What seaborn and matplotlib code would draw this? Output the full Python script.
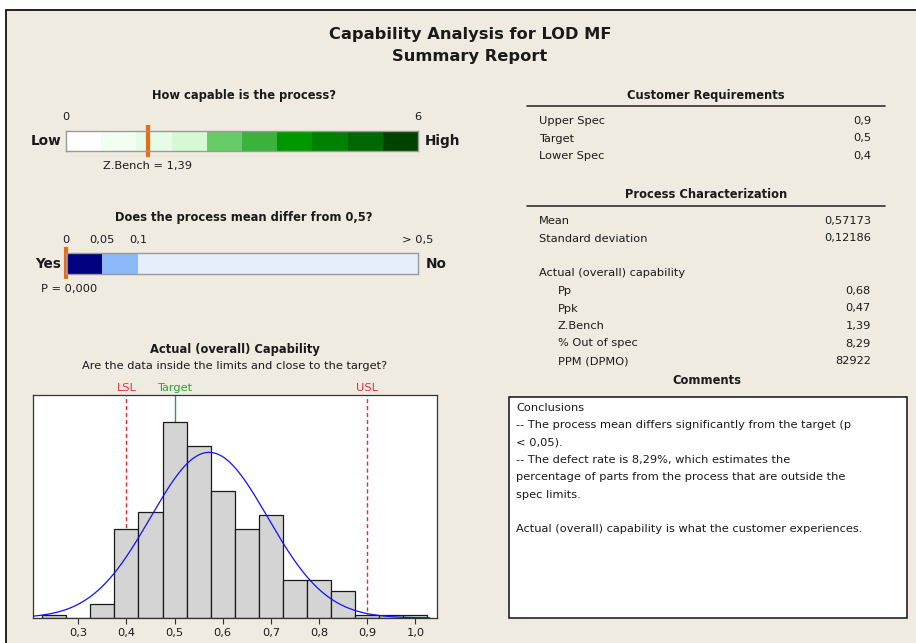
import numpy as np
import pandas as pd
import matplotlib
matplotlib.use("Agg")
import matplotlib.pyplot as plt
import seaborn as sns
from matplotlib.patches import Rectangle

# ---------------- data ----------------
bin_centers = [0.25, 0.30, 0.35, 0.40, 0.45, 0.50, 0.55, 0.60, 0.65, 0.70,
               0.75, 0.80, 0.85, 0.90, 0.95, 1.00]
bin_counts = [1, 0, 4, 26, 31, 57, 50, 37, 26, 30, 11, 11, 8, 1, 1, 1]
bin_width = 0.05
proc_mean = 0.57173
proc_sd = 0.12186
lsl, target, usl = 0.4, 0.5, 0.9
z_bench = 1.39
p_value = 0.0

cap_edges = [0, 0.6, 1.2, 1.8, 2.4, 3.0, 3.6, 4.2, 4.8, 5.4, 6.0]
cap_colors = ["#FFFFFF", "#F1FEF1", "#E6FCE6", "#D4F9D4", "#66CC66",
              "#3CB13C", "#009700", "#008000", "#006800", "#004200"]
p_edges = [0, 0.05, 0.10, 0.489]
p_colors = ["#000080", "#8CB9F9", "#E5EEFC"]
p_tick_pos = [0, 0.05, 0.10, 0.489]
p_tick_labels = ["0", "0,05", "0,1", "> 0,5"]

x_ticks = [0.3, 0.4, 0.5, 0.6, 0.7, 0.8, 0.9, 1.0]
x_tick_labels = ["0,3", "0,4", "0,5", "0,6", "0,7", "0,8", "0,9", "1,0"]

req_labels = ["Upper Spec", "Target", "Lower Spec"]
req_values = ["0,9", "0,5", "0,4"]
char_labels = ["Mean", "Standard deviation"]
char_values = ["0,57173", "0,12186"]
cap_labels = ["Pp", "Ppk", "Z.Bench", "% Out of spec", "PPM (DPMO)"]
cap_values = ["0,68", "0,47", "1,39", "8,29", "82922"]
comment_lines = [
    "Conclusions",
    "-- The process mean differs significantly from the target (p",
    "< 0,05).",
    "-- The defect rate is 8,29%, which estimates the",
    "percentage of parts from the process that are outside the",
    "spec limits.",
    "",
    "Actual (overall) capability is what the customer experiences.",
]

# ---------------- style ----------------
sns.set_style("white")
plt.rcParams["font.family"] = ["DejaVu Sans"]
BEIGE = "#EFEBE1"
ORANGE = "#EE6A10"
FS = 8.2
FSB = 8.3

W, H = 916, 643
fig = plt.figure(figsize=(W / 100, H / 100), dpi=100)
fig.patch.set_facecolor("white")


def rect(x0, y0, x1, y1):
    return [x0 / W, 1 - y1 / H, (x1 - x0) / W, (y1 - y0) / H]


bg = fig.add_axes([0, 0, 1, 1])
bg.set_xlim(0, W)
bg.set_ylim(H, 0)
bg.axis("off")
bg.add_patch(Rectangle((5.5, 10.0), W + 10, H + 10, facecolor=BEIGE,
                       edgecolor="#111111", lw=1.3, zorder=0))


def t(x, y, s, ha="left", bold=False, size=FS, color="#1a1a1a"):
    bg.text(x, y, s, ha=ha, va="center", fontsize=size,
            fontweight="bold" if bold else "normal", color=color)


# titles
t(470, 34, "Capability Analysis for LOD MF", ha="center", bold=True, size=11.7)
t(470, 56, "Summary Report", ha="center", bold=True, size=11.7)

# ---------------- capability bar ----------------
t(244, 95, "How capable is the process?", ha="center", bold=True, size=FSB)
axc = fig.add_axes(rect(66, 131, 418, 151))
axc.barh([0] * len(cap_colors), np.diff(cap_edges), left=cap_edges[:-1],
         height=1.0, color=cap_colors, edgecolor="none")
axc.set_xlim(cap_edges[0], cap_edges[-1])
axc.set_ylim(-0.5, 0.5)
axc.set_xticks([])
axc.set_yticks([])
for s in axc.spines.values():
    s.set_color("#9a9a9a")
    s.set_linewidth(1.0)
axc.plot([z_bench, z_bench], [-0.78, 0.82], color=ORANGE, lw=3,
         clip_on=False, solid_capstyle="butt")
for v, lab in [(cap_edges[0], "0"), (cap_edges[-1], "6")]:
    axc.annotate(lab, (v, 1), xycoords=("data", "axes fraction"),
                 xytext=(0, 14 * 0.72), textcoords="offset points",
                 ha="center", va="center", fontsize=FS, color="#1a1a1a")
zb_label = "Z.Bench = " + f"{z_bench:.2f}".replace(".", ",")
axc.annotate(zb_label, (z_bench, 0), xycoords=("data", "axes fraction"),
             xytext=(0, -15 * 0.72), textcoords="offset points",
             ha="center", va="center", fontsize=FS, color="#1a1a1a")
t(46, 141, "Low", ha="center", bold=True, size=9.8)
t(443, 141, "High", ha="center", bold=True, size=9.8)

# ---------------- p-value bar ----------------
t(244, 217, "Does the process mean differ from 0,5?", ha="center", bold=True, size=FSB)
axp = fig.add_axes(rect(66, 253, 418, 274))
axp.barh([0] * len(p_colors), np.diff(p_edges), left=p_edges[:-1],
         height=1.0, color=p_colors, edgecolor="none")
axp.set_xlim(p_edges[0], p_edges[-1])
axp.set_ylim(-0.5, 0.5)
axp.set_xticks([])
axp.set_yticks([])
for s in axp.spines.values():
    s.set_color("#9a9a9a")
    s.set_linewidth(1.0)
axp.plot([p_value, p_value], [-0.75, 0.8], color=ORANGE, lw=3,
         clip_on=False, solid_capstyle="butt")
for v, lab in zip(p_tick_pos, p_tick_labels):
    axp.annotate(lab, (v, 1), xycoords=("data", "axes fraction"),
                 xytext=(0, 13 * 0.72), textcoords="offset points",
                 ha="center", va="center", fontsize=FS, color="#1a1a1a")
t(69, 289, "P = 0,000", ha="center")
t(48, 264, "Yes", ha="center", bold=True, size=9.8)
t(436, 264, "No", ha="center", bold=True, size=9.8)

# ---------------- histogram ----------------
t(235, 349, "Actual (overall) Capability", ha="center", bold=True, size=FSB)
t(235, 366, "Are the data inside the limits and close to the target?", ha="center")
axh = fig.add_axes(rect(33, 395, 437, 618))
axh.set_facecolor("white")
edges = [c - bin_width / 2 for c in bin_centers] + [bin_centers[-1] + bin_width / 2]
df = pd.DataFrame({"x": bin_centers, "n": bin_counts})
for xv, col, ls in [(lsl, "#E0303A", (0, (3, 2))), (target, "#2E9E3A", "-"),
                    (usl, "#E0303A", (0, (3, 2)))]:
    axh.axvline(xv, color=col, lw=1.0, ls=ls, zorder=0)
sns.histplot(data=df, x="x", weights="n", bins=edges, ax=axh,
             color="#D4D4D4", edgecolor="#1a1a1a", linewidth=0.9, alpha=1,
             zorder=2)
N = sum(bin_counts)
xs = np.linspace(0.207, 1.03, 300)
ys = N * bin_width / (proc_sd * np.sqrt(2 * np.pi)) * np.exp(-0.5 * ((xs - proc_mean) / proc_sd) ** 2)
sns.lineplot(x=xs, y=ys, ax=axh, color="#1010FF", lw=0.9, zorder=3)
axh.set_xlim(0.206, 1.045)
axh.set_ylim(0, 65)
axh.set_xticks(x_ticks)
axh.set_xticklabels(x_tick_labels, fontsize=FS, color="#1a1a1a")
axh.set_yticks([])
axh.set_xlabel("")
axh.set_ylabel("")
axh.tick_params(axis="x", direction="out", length=4, width=0.8, color="#333333", pad=3,
                bottom=True)
for s in axh.spines.values():
    s.set_color("#333333")
    s.set_linewidth(0.9)
for xv, lab, col in [(lsl, "LSL", "#E0303A"), (target, "Target", "#2E9E3A"),
                     (usl, "USL", "#E0303A")]:
    axh.annotate(lab, (xv, 1), xycoords=("data", "axes fraction"),
                 xytext=(0, 7 * 0.72), textcoords="offset points",
                 ha="center", va="center", fontsize=FS, color=col)

# ---------------- right panel ----------------
t(706, 96, "Customer Requirements", ha="center", bold=True, size=FSB)
bg.plot([527, 885], [106, 106], color="#333333", lw=1.2)
for i, (lab, val) in enumerate(zip(req_labels, req_values)):
    y = 121 + i * 17.5
    t(539, y, lab)
    t(871, y, val, ha="right")

t(706, 195, "Process Characterization", ha="center", bold=True, size=FSB)
bg.plot([527, 885], [206, 206], color="#333333", lw=1.2)
for i, (lab, val) in enumerate(zip(char_labels, char_values)):
    y = 221 + i * 17.5
    t(539, y, lab)
    t(871, y, val, ha="right")
t(539, 273, "Actual (overall) capability")
for i, (lab, val) in enumerate(zip(cap_labels, cap_values)):
    y = 291 + i * 17.5
    t(558, y, lab)
    t(871, y, val, ha="right")

t(707, 381, "Comments", ha="center", bold=True, size=FSB)
bg.add_patch(Rectangle((509, 397), 398, 221, facecolor="white",
                       edgecolor="#111111", lw=1.1, zorder=1))
for i, line in enumerate(comment_lines):
    bg.text(516, 408 + i * 17.3, line, ha="left", va="center", fontsize=FS,
            color="#1a1a1a", zorder=2)

fig.savefig("out.png", dpi=100, facecolor="white")
